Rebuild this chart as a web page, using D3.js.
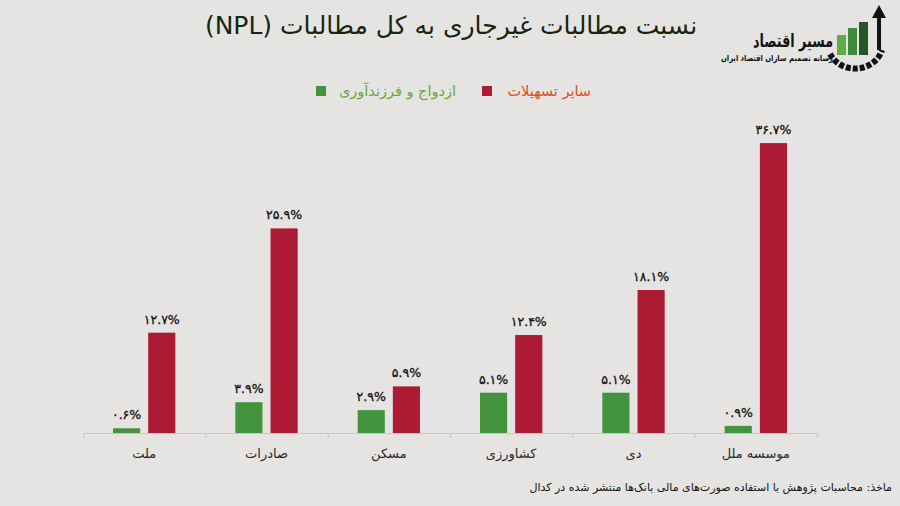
<html lang="fa">
<head>
<meta charset="utf-8">
<title>NPL</title>
<style>
  body { margin: 0; background: #e6e4e2; }
  svg { display: block; background: #e6e4e2; }
  text { font-family: "DejaVu Sans", sans-serif; }
</style>
</head>
<body>
<div id="chart"></div>
<script src="https://cdn.jsdelivr.net/npm/d3@7"></script>
<script>
// data
var banks = ["ملت", "صادرات", "مسکن", "کشاورزی", "دی", "موسسه ملل"];
var series = ["ازدواج و فرزندآوری", "سایر تسهیلات"];
var marriage = [0.6, 3.9, 2.9, 5.1, 5.1, 0.9];
var others = [12.7, 25.9, 5.9, 12.4, 18.1, 36.7];
var colors = ["#44943f", "#ad1a33"];
var legendTextColors = ["#66a83a", "#d4521c"];

var width = 900, height = 506;
var fa = function(v) {
    return v.toFixed(1).replace(/[0-9]/g, function(c) { return "۰۱۲۳۴۵۶۷۸۹"[+c]; }) + "%";
};

var svg = d3.select("#chart").append("svg")
    .attr("width", width)
    .attr("height", height);

var x = d3.scaleBand().domain(banks).range([83, 817]).padding(0);
var xi = d3.scaleBand().domain(series).range([30, x.bandwidth() - 30]).paddingInner(0.229);
var y = d3.scaleLinear().domain([0, 40]).range([433, 117]);

// title
svg.append("text")
    .attr("x", 451).attr("y", 34)
    .attr("text-anchor", "middle")
    .attr("direction", "rtl")
    .style("font-size", "25px")
    .style("fill", "#16260f")
    .text("نسبت مطالبات غیرجاری به کل مطالبات (NPL)");

// legend
var legendPos = [{sq: 316, tx: 456}, {sq: 482, tx: 591}];
series.forEach(function(s, i) {
    svg.append("rect")
        .attr("x", legendPos[i].sq).attr("y", 86)
        .attr("width", 10).attr("height", 10)
        .style("fill", colors[i]);
    svg.append("text")
        .attr("x", legendPos[i].tx).attr("y", 96)
        .attr("text-anchor", "start")
        .attr("direction", "rtl")
        .style("font-size", "14.5px")
        .style("fill", legendTextColors[i])
        .text(s);
});

// axis line with ticks at band edges
svg.append("line")
    .attr("x1", 83).attr("x2", 817).attr("y1", 433.5).attr("y2", 433.5)
    .style("stroke", "#c9c7c5");
var edges = banks.map(function(b) { return x(b); }).concat([x.range()[1]]);
svg.selectAll(".tick")
    .data(edges)
    .enter().append("line")
    .attr("class", "tick")
    .attr("x1", function(d) { return d + 0.5; })
    .attr("x2", function(d) { return d + 0.5; })
    .attr("y1", 433).attr("y2", 438)
    .style("stroke", "#c9c7c5");

// bars
var rows = [];
banks.forEach(function(b, i) {
    rows.push({bank: b, s: series[0], v: marriage[i], c: colors[0]});
    rows.push({bank: b, s: series[1], v: others[i], c: colors[1]});
});

svg.selectAll(".bar")
    .data(rows)
    .enter().append("rect")
    .attr("class", "bar")
    .attr("x", function(d) { return x(d.bank) + xi(d.s); })
    .attr("y", function(d) { return y(d.v); })
    .attr("width", xi.bandwidth())
    .attr("height", function(d) { return y(0) - y(d.v); })
    .style("fill", function(d) { return d.c; });

svg.selectAll(".val")
    .data(rows)
    .enter().append("text")
    .attr("class", "val")
    .attr("x", function(d) { return x(d.bank) + xi(d.s) + xi.bandwidth() / 2; })
    .attr("y", function(d) { return y(d.v) - 9; })
    .attr("text-anchor", "middle")
    .style("font-size", "12.5px")
    .style("fill", "#111")
    .style("stroke", "#111").style("stroke-width", 0.3)
    .text(function(d) { return fa(d.v); });

// category labels
svg.selectAll(".cat")
    .data(banks)
    .enter().append("text")
    .attr("class", "cat")
    .attr("x", function(d) { return x(d) + x.bandwidth() / 2; })
    .attr("y", 458)
    .attr("text-anchor", "middle")
    .attr("direction", "rtl")
    .style("font-size", "13px")
    .style("fill", "#2a2a2a")
    .text(function(d) { return d; });

// source note
svg.append("text")
    .attr("x", 892).attr("y", 491)
    .attr("text-anchor", "start")
    .attr("direction", "rtl")
    .style("font-size", "11px")
    .style("fill", "#111")
    .text("ماخذ: محاسبات پژوهش با استفاده صورت‌های مالی بانک‌ها منتشر شده در کدال");

// logo (rough)
var logo = svg.append("g");
logo.append("path")
    .attr("d", "M830,54 A28,26 0 0 0 882,50")
    .style("fill", "none").style("stroke", "#111").style("stroke-width", 6)
    .style("stroke-dasharray", "5,2");
var logoBars = [{x: 837, h: 20, c: "#5fae45"}, {x: 848, h: 27, c: "#3c8c3a"}, {x: 859, h: 33, c: "#24562a"}];
logoBars.forEach(function(b) {
    logo.append("rect").attr("x", b.x).attr("y", 55 - b.h)
        .attr("width", 9).attr("height", b.h).style("fill", b.c);
});
logo.append("path")
    .attr("d", "M879,50 L879,16")
    .style("stroke", "#111").style("stroke-width", 4);
logo.append("path")
    .attr("d", "M872,18 L879,5 L886,18 Z")
    .style("fill", "#111");
logo.append("text")
    .attr("x", 833).attr("y", 47)
    .attr("direction", "rtl")
    .attr("textLength", 80).attr("lengthAdjust", "spacingAndGlyphs")
    .style("font-size", "18px").style("font-weight", "bold").style("fill", "#111")
    .text("مسیر اقتصاد");
logo.append("text")
    .attr("x", 833).attr("y", 61)
    .attr("direction", "rtl")
    .attr("textLength", 112).attr("lengthAdjust", "spacingAndGlyphs")
    .style("font-size", "8.5px").style("font-weight", "bold").style("fill", "#111")
    .text("رسانه تصمیم سازان اقتصاد ایران");
</script>
</body>
</html>
